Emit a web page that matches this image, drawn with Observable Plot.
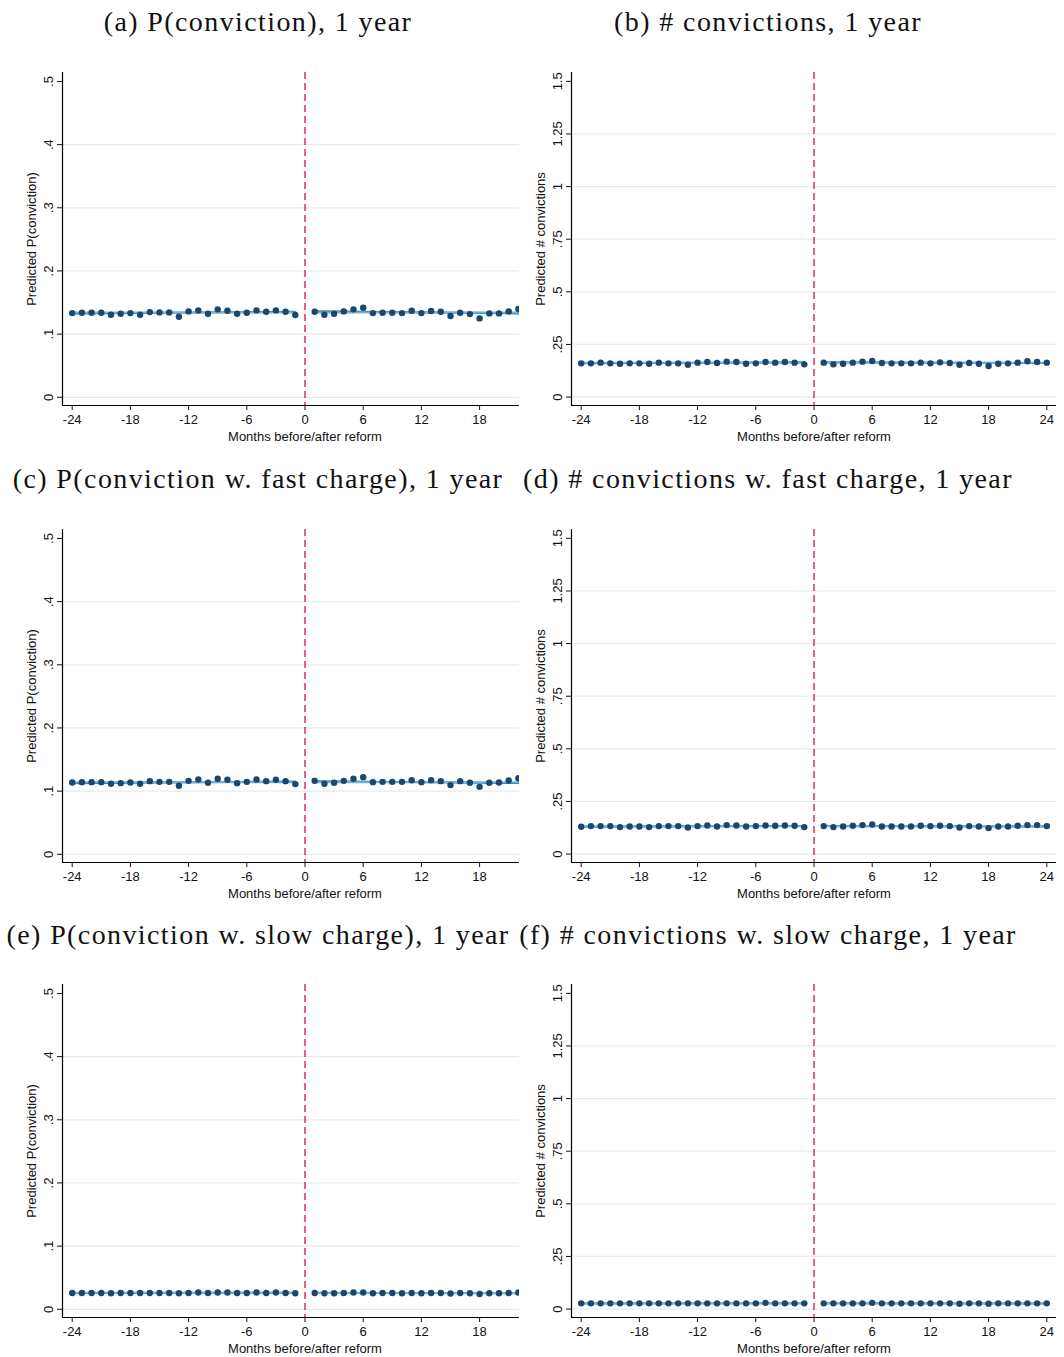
<!DOCTYPE html>
<html><head><meta charset="utf-8">
<script src="https://cdn.jsdelivr.net/npm/d3@7"></script>
<script src="https://cdn.jsdelivr.net/npm/@observablehq/plot@0.6"></script>
<style>
body{margin:0;background:#fff;}
#root{position:relative;width:1064px;height:1357px;overflow:hidden;background:#fff;}
.title{position:absolute;font-family:"Liberation Serif","Times New Roman",serif;font-size:28px;letter-spacing:1.4px;color:#111;white-space:nowrap;transform:translate(-50%,-50%);line-height:1;}
.panel{position:absolute;overflow:hidden;height:392px;}
.panel svg{display:block;max-width:none !important;}
</style></head><body><div id="root"></div>
<script>
// ---- categories / ticks ----
const months = [-24,-23,-22,-21,-20,-19,-18,-17,-16,-15,-14,-13,-12,-11,-10,-9,-8,-7,-6,-5,-4,-3,-2,-1,
                1,2,3,4,5,6,7,8,9,10,11,12,13,14,15,16,17,18,19,20,21,22,23,24];
const xDomain = [-25, 25];
const xTicks = [-24,-18,-12,-6,0,6,12,18,24];
const xTickLabels = ["-24","-18","-12","-6","0","6","12","18","24"];
const xTicksCropped = [-24,-18,-12,-6,0,6,12,18];   // left column is cropped before 24
const xTitle = "Months before/after reform";

const probTicks = [0,0.1,0.2,0.3,0.4,0.5];
const probTickLabels = ["0",".1",".2",".3",".4",".5"];
const probGrid = [0,0.1,0.2,0.3,0.4];
const countTicks = [0,0.25,0.5,0.75,1,1.25,1.5];
const countTickLabels = ["0",".25",".5",".75","1","1.25","1.5"];
const countGrid = [0,0.25,0.5,0.75,1,1.25];
const probDomain = [-0.013, 0.5142];
const countDomain = [-0.04, 1.542];

const titles = ["(a) P(conviction), 1 year","(b) # convictions, 1 year",
  "(c) P(conviction w. fast charge), 1 year","(d) # convictions w. fast charge, 1 year",
  "(e) P(conviction w. slow charge), 1 year","(f) # convictions w. slow charge, 1 year"];
const probTitle = "Predicted P(conviction)";
const countTitle = "Predicted # convictions";

// ---- series values (months -24..-1, 1..24) ----
const aVals = [0.1333,0.1339,0.1339,0.1339,0.1307,0.1323,0.1333,0.1307,0.1349,0.1344,0.1344,0.1275,0.1360,0.1376,0.1323,0.1392,0.1370,0.1323,0.1339,0.1376,0.1354,0.1376,0.1354,0.1302,
               0.1354,0.1307,0.1323,0.1360,0.1392,0.1418,0.1333,0.1339,0.1339,0.1333,0.1370,0.1333,0.1365,0.1354,0.1286,0.1339,0.1317,0.1249,0.1328,0.1328,0.1360,0.1397,0.1380,0.1360];
const bVals = [0.1603,0.1603,0.1635,0.1603,0.1587,0.1603,0.1603,0.1587,0.1635,0.1603,0.1603,0.1538,0.1635,0.1667,0.1619,0.1683,0.1667,0.1587,0.1603,0.1667,0.1635,0.1667,0.1635,0.1554,
               0.1635,0.1554,0.1587,0.1635,0.1683,0.1715,0.1619,0.1603,0.1603,0.1603,0.1635,0.1603,0.1651,0.1619,0.1538,0.1619,0.1587,0.1474,0.1587,0.1603,0.1635,0.1699,0.1667,0.1635];
const cVals = [0.1137,0.1142,0.1142,0.1142,0.1116,0.1126,0.1137,0.1116,0.1158,0.1147,0.1147,0.1084,0.1163,0.1184,0.1132,0.1195,0.1179,0.1126,0.1147,0.1184,0.1158,0.1179,0.1158,0.1111,
               0.1163,0.1116,0.1132,0.1163,0.1195,0.1221,0.1142,0.1147,0.1147,0.1147,0.1174,0.1142,0.1174,0.1158,0.1095,0.1158,0.1132,0.1068,0.1132,0.1137,0.1168,0.1205,0.1190,0.1170];
const dVals = [0.1297,0.1329,0.1329,0.1329,0.1282,0.1313,0.1313,0.1282,0.1329,0.1329,0.1329,0.1266,0.1329,0.1361,0.1313,0.1377,0.1361,0.1313,0.1329,0.1361,0.1345,0.1361,0.1345,0.1282,
               0.1329,0.1282,0.1313,0.1345,0.1377,0.1408,0.1313,0.1313,0.1313,0.1313,0.1345,0.1329,0.1345,0.1329,0.1266,0.1329,0.1313,0.1234,0.1313,0.1313,0.1345,0.1377,0.1377,0.1329];
const eVals = [0.0259,0.0259,0.0259,0.0259,0.0254,0.0259,0.0259,0.0259,0.0259,0.0259,0.0259,0.0254,0.0259,0.0265,0.0259,0.0265,0.0265,0.0259,0.0259,0.0265,0.0259,0.0265,0.0259,0.0254,
               0.0259,0.0254,0.0254,0.0259,0.0265,0.0265,0.0254,0.0259,0.0259,0.0254,0.0259,0.0254,0.0259,0.0259,0.0249,0.0259,0.0254,0.0243,0.0254,0.0254,0.0259,0.0265,0.0265,0.0259];
const fVals = [0.0272,0.0272,0.0272,0.0272,0.0272,0.0272,0.0272,0.0272,0.0272,0.0272,0.0272,0.0272,0.0272,0.0272,0.0272,0.0272,0.0272,0.0272,0.0272,0.0295,0.0272,0.0272,0.0272,0.0272,
               0.0272,0.0272,0.0272,0.0272,0.0272,0.0295,0.0272,0.0272,0.0272,0.0272,0.0272,0.0272,0.0272,0.0272,0.0250,0.0272,0.0272,0.0250,0.0272,0.0272,0.0272,0.0272,0.0272,0.0272];

// ---- fitted lines: [pre start (-24), pre end (-1), post start (1), post end (24)] ----
const aFit  = [0.1327,0.1355,0.1362,0.1325];
const aMean = [0.1342,0.1342,0.1343,0.1343];
const bFit  = [0.1610,0.1650,0.1660,0.1615];
const bMean = [0.1630,0.1630,0.1635,0.1635];
const cFit  = [0.1125,0.1152,0.1158,0.1125];
const cMean = [0.1140,0.1140,0.1142,0.1142];
const dFit  = [0.1300,0.1335,0.1338,0.1305];
const dMean = [0.1318,0.1318,0.1322,0.1322];
const eFit  = [0.0257,0.0262,0.0261,0.0255];
const eMean = [0.0260,0.0260,0.0258,0.0258];
const fFit  = [0.0271,0.0273,0.0273,0.0270];
const fMean = [0.0272,0.0272,0.0272,0.0272];
const fitMonths = [-24,-1,1,24];
const fitGroups = ["pre","pre","post","post"];

// ---- styling ----
const dotColor = "#1a476f", fitColor = "#2a79b0", meanColor = "#6fb5da";
const gridColor = "#e4ecef", refColor = "#d8123c";

const root = document.getElementById("root");
const rowTops = [55, 511.5, 967];
const titleY = [22, 479, 935];
const colTitleX = [258, 768];

const panels = [
  {vals:aVals, fit:aFit, mean:aMean, kind:"p"},
  {vals:bVals, fit:bFit, mean:bMean, kind:"c"},
  {vals:cVals, fit:cFit, mean:cMean, kind:"p"},
  {vals:dVals, fit:dFit, mean:dMean, kind:"c"},
  {vals:eVals, fit:eFit, mean:eMean, kind:"p"},
  {vals:fVals, fit:fFit, mean:fMean, kind:"c"}
];

panels.forEach((p, idx) => {
  const row = Math.floor(idx/2), col = idx % 2;
  const isP = p.kind === "p";
  const yTicks = isP ? probTicks : countTicks;
  const yLabels = isP ? probTickLabels : countTickLabels;
  const data = months.map((m,i) => ({m, v: p.vals[i]}));
  const fitData = fitMonths.map((m,i) => ({m, v: p.fit[i], g: fitGroups[i]}));
  const meanData = fitMonths.map((m,i) => ({m, v: p.mean[i], g: fitGroups[i]}));
  const yDom = isP ? probDomain : countDomain;
  const marginLeft = 62;
  const plotW = 485;
  const svgW = col === 0 ? 560 : 555;
  const fontFamily = "'Liberation Sans', Arial, sans-serif";
  const chart = Plot.plot({
    width: svgW, height: 392,
    marginLeft, marginRight: svgW - marginLeft - plotW, marginTop: 17, marginBottom: 42,
    style: {fontFamily, fontSize: "13px", color: "#111", background: "transparent"},
    x: {domain: xDomain},
    y: {domain: yDom},
    marks: [
      Plot.ruleY(isP ? probGrid : countGrid, {stroke: gridColor, strokeWidth: 1.2}),
      Plot.ruleX([0], {stroke: refColor, strokeWidth: 1.3, strokeDasharray: "7,4"}),
      Plot.line(fitData, {x: "m", y: "v", z: "g", stroke: fitColor, strokeWidth: 2}),
      Plot.line(meanData, {x: "m", y: "v", z: "g", stroke: meanColor, strokeWidth: 2}),
      Plot.dot(data, {x: "m", y: "v", r: 3.2, fill: dotColor, stroke: "none"}),
      Plot.ruleX([xDomain[0]], {stroke: "#000", strokeWidth: 1.2}),
      Plot.ruleY([yDom[0]], {stroke: "#000", strokeWidth: 1.2}),
      Plot.axisX({ticks: col === 0 ? xTicksCropped : xTicks, tickFormat: d => xTickLabels[xTicks.indexOf(d)], tickSize: 5, tickPadding: 4, label: null}),
      Plot.axisY({ticks: yTicks, tickFormat: d => yLabels[yTicks.indexOf(d)], tickSize: 5, tickPadding: 5, tickRotate: -90, label: null}),
      Plot.text([xTitle], {text: d => d, frameAnchor: "bottom", dy: 35, fontSize: 13, fill: "#111"}),
      Plot.text([isP ? probTitle : countTitle], {text: d => d, frameAnchor: "left", textAnchor: "middle", dx: -31, rotate: -90, fontSize: 13, fill: "#111"})
    ]
  });
  const div = document.createElement("div");
  div.className = "panel";
  div.style.left = (col === 0 ? 0 : 509) + "px";
  div.style.top = rowTops[row] + "px";
  div.style.width = (col === 0 ? 519 : 555) + "px";
  div.appendChild(chart);
  root.appendChild(div);

  const t = document.createElement("div");
  t.className = "title";
  t.textContent = titles[idx];
  t.style.left = colTitleX[col] + "px";
  t.style.top = titleY[row] + "px";
  root.appendChild(t);
});
</script></body></html>
